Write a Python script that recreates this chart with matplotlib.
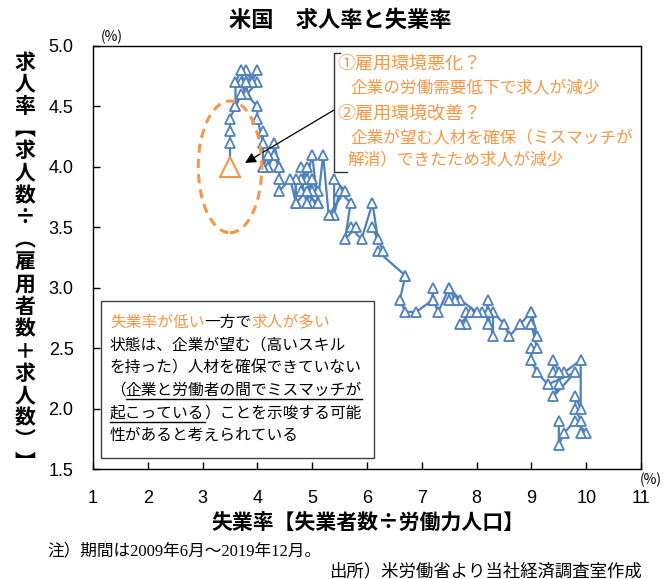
import matplotlib
matplotlib.use('Agg')
import matplotlib.pyplot as plt
from matplotlib.patches import Ellipse, Rectangle
from matplotlib.lines import Line2D

plt.rcParams['font.family'] = ['Noto Sans CJK JP', 'DejaVu Sans']

# unemployment rate (%) and job openings rate (%), monthly Jun 2009 - Dec 2019
unemp_2009 = [9.5, 9.5, 9.6, 9.8, 10.0, 9.9, 9.9]
openings_2009 = [1.9, 1.7, 1.8, 1.9, 1.8, 1.8, 1.9]
unemp_2010 = [9.8, 9.8, 9.9, 9.9, 9.6, 9.4, 9.4, 9.5, 9.5, 9.4, 9.8, 9.3]
openings_2010 = [2.0, 2.1, 2.0, 2.4, 2.3, 2.3, 2.4, 2.3, 2.2, 2.1, 2.3, 2.2]
unemp_2011 = [9.1, 9.0, 9.0, 9.1, 9.0, 9.1, 9.0, 9.0, 9.0, 8.8, 8.6, 8.5]
openings_2011 = [2.3, 2.4, 2.5, 2.5, 2.7, 2.6, 2.8, 2.7, 2.8, 2.7, 2.6, 2.7]
unemp_2012 = [8.3, 8.3, 8.2, 8.2, 8.2, 8.2, 8.2, 8.1, 7.8, 7.8, 7.7, 7.9]
openings_2012 = [2.8, 2.6, 2.8, 2.7, 2.9, 2.8, 2.8, 2.8, 2.8, 2.7, 2.7, 2.8]
unemp_2013 = [8.0, 7.7, 7.5, 7.6, 7.5, 7.5, 7.3, 7.2, 7.2, 7.2, 6.9, 6.7]
openings_2013 = [2.8, 2.9, 3.0, 2.9, 2.9, 3.0, 2.8, 2.9, 3.0, 2.9, 2.8, 2.8]
unemp_2014 = [6.6, 6.7, 6.7, 6.2, 6.3, 6.1, 6.2, 6.1, 5.9, 5.7, 5.8, 5.6]
openings_2014 = [2.9, 3.1, 3.1, 3.3, 3.3, 3.5, 3.4, 3.7, 3.4, 3.5, 3.5, 3.4]
unemp_2015 = [5.7, 5.5, 5.4, 5.4, 5.6, 5.3, 5.2, 5.1, 5.0, 5.0, 5.1, 5.0]
openings_2015 = [3.7, 3.8, 3.6, 3.9, 3.8, 3.6, 4.1, 3.7, 3.7, 3.9, 3.8, 3.8]
unemp_2016 = [4.8, 4.9, 5.0, 5.1, 4.8, 4.9, 4.8, 4.9, 5.0, 4.9, 4.7, 4.7]
openings_2016 = [4.0, 3.9, 4.1, 3.7, 3.8, 4.0, 3.9, 3.7, 3.9, 3.8, 3.7, 3.9]
unemp_2017 = [4.7, 4.6, 4.4, 4.4, 4.4, 4.3, 4.3, 4.4, 4.3, 4.2, 4.2, 4.1]
openings_2017 = [3.7, 3.9, 3.8, 3.9, 4.0, 4.1, 4.2, 4.0, 4.1, 4.0, 4.1, 4.0]
unemp_2018 = [4.1, 4.1, 4.0, 4.0, 3.8, 4.0, 3.8, 3.8, 3.7, 3.8, 3.8, 3.9]
openings_2018 = [4.3, 4.2, 4.4, 4.5, 4.6, 4.7, 4.7, 4.6, 4.7, 4.6, 4.8, 4.7]
unemp_2019 = [4.0, 3.8, 3.8, 3.7, 3.6, 3.6, 3.7, 3.6, 3.5, 3.5, 3.5, 3.5]
openings_2019 = [4.8, 4.7, 4.6, 4.8, 4.7, 4.5, 4.6, 4.5, 4.4, 4.3, 4.2, 4.0]

unemp = (unemp_2009 + unemp_2010 + unemp_2011 + unemp_2012 + unemp_2013 + unemp_2014
         + unemp_2015 + unemp_2016 + unemp_2017 + unemp_2018 + unemp_2019)
openings = (openings_2009 + openings_2010 + openings_2011 + openings_2012 + openings_2013
            + openings_2014 + openings_2015 + openings_2016 + openings_2017 + openings_2018
            + openings_2019)

x_ticks = list(range(1, 12))
y_ticks = [1.5, 2.0, 2.5, 3.0, 3.5, 4.0, 4.5, 5.0]

BLUE = '#4F81BD'
ORANGE = '#F79646'
W, H = 668, 579


def fx(px):
    return px / W


def fy(py):
    return 1 - py / H


fig = plt.figure(figsize=(W / 100, H / 100), dpi=100)
ax = fig.add_axes([fx(93), fy(469), fx(641) - fx(93), fy(46) - fy(469)])

ax.plot(unemp, openings, color=BLUE, lw=1.6, marker='^', ms=7, mfc='white',
        mec=BLUE, mew=1.3, zorder=3)
ax.plot(unemp[-1], openings[-1], marker='^', ms=14, mfc='white', mec=ORANGE,
        mew=1.5, ls='none', zorder=4)
ax.add_patch(Ellipse((unemp[-1], openings[-1]), 1.16, 1.09, fill=False,
                     ec=ORANGE, lw=2.2, ls=(0, (3, 2)), zorder=5))

ax.set_xlim(1, 11)
ax.set_ylim(1.5, 5.0)
ax.set_xticks(x_ticks)
ax.set_yticks(y_ticks)
ax.set_yticklabels(['%.1f' % v for v in y_ticks])
ax.tick_params(direction='in', length=5, width=1, labelsize=13)
ax.tick_params(axis='x', pad=15)
ax.tick_params(axis='y', pad=14)
for lbl in ax.get_xticklabels() + ax.get_yticklabels():
    lbl.set_fontfamily('Liberation Sans')
for sp in ax.spines.values():
    sp.set_color('black')
    sp.set_linewidth(1)

# title, axis labels, units
fig.text(fx(340), fy(20), '米国　求人率と失業率', fontsize=16, fontweight='bold',
         ha='center', va='center')
fig.text(fx(368), fy(522), '失業率【失業者数÷労働力人口】', fontsize=15,
         fontweight='bold', ha='center', va='center')
ylabel_chars = ['求', '人', '率', '︻', '求', '人', '数', '÷', '︵', '雇', '用',
                '者', '数', '＋', '求', '人', '数', '︶', '︼']
for i, ch in enumerate(ylabel_chars):
    yy = 62 + i * (462 - 62) / (len(ylabel_chars) - 1)
    fig.text(fx(25), fy(yy), ch, fontsize=15, fontweight='bold',
             ha='center', va='center')
fig.text(fx(112), fy(37), '(%)', fontsize=10, ha='center', va='center')
fig.text(fx(651), fy(480), '(%)', fontsize=10, ha='center', va='center')

# footnotes
fig.text(fx(47), fy(551), '注）期間は2009年6月～2019年12月。', fontsize=12,
         family=['Liberation Serif', 'Noto Sans CJK JP'], ha='left', va='center')
fig.text(fx(642), fy(571), '出所）米労働省より当社経済調査室作成', fontsize=12.5,
         ha='right', va='center')

# bracket callout (upper right)
fig.add_artist(Line2D([fx(340), fx(334), fx(334), fx(347)],
                      [fy(53), fy(53), fy(172), fy(172)], color='#333333', lw=1))
ax.annotate('', xy=(fx(245), fy(163)), xytext=(fx(334), fy(110)),
            xycoords='figure fraction', textcoords='figure fraction',
            arrowprops=dict(arrowstyle='-|>', color='black', lw=0.9,
                            mutation_scale=16, shrinkA=0, shrinkB=0))
fig.text(fx(337), fy(64), '①雇用環境悪化？', fontsize=13, color=ORANGE, va='center')
fig.text(fx(350), fy(89), '企業の労働需要低下で求人が減少', fontsize=12, color=ORANGE,
         va='center')
fig.text(fx(337), fy(113), '②雇用環境改善？', fontsize=13, color=ORANGE, va='center')
fig.text(fx(350), fy(139), '企業が望む人材を確保（ミスマッチが', fontsize=12,
         color=ORANGE, va='center')
fig.text(fx(347), fy(161), '解消）できたため求人が減少', fontsize=12, color=ORANGE,
         va='center')

# lower-left note box
fig.add_artist(Rectangle((fx(101), fy(458)), fx(374) - fx(101), fy(301) - fy(458),
                         transform=fig.transFigure, fc='white', ec='#404040', lw=1))
renderer = fig.canvas.get_renderer()


def rich_line(x, y, pieces, size=11.3):
    boxes = []
    for s, c in pieces:
        t = fig.text(fx(x), fy(y), s, fontsize=size, color=c, ha='left', va='center')
        bb = t.get_window_extent(renderer)
        boxes.append(bb)
        x += bb.width
    return boxes


def underline(bb, y):
    fig.add_artist(Line2D([bb.x0 / W, bb.x1 / W], [fy(y), fy(y)],
                          color='black', lw=1))


note_x = 110
rich_line(note_x, 322, [('失業率が低い', ORANGE), ('一方で', 'black'),
                        ('求人が多い', ORANGE)])
rich_line(note_x, 345, [('状態は、企業が望む（高いスキル', 'black')])
rich_line(note_x, 368, [('を持った）人材を確保できていない', 'black')])
b4 = rich_line(note_x, 390, [('（', 'black'),
                             ('企業と労働者の間でミスマッチが', 'black')])
b5 = rich_line(note_x, 413, [('起こっている', 'black'),
                             ('）ことを示唆する可能', 'black')])
rich_line(note_x, 435, [('性があると考えられている', 'black')])
underline(b4[1], 399)
underline(b5[0], 422)

fig.savefig('out.png', dpi=100)
